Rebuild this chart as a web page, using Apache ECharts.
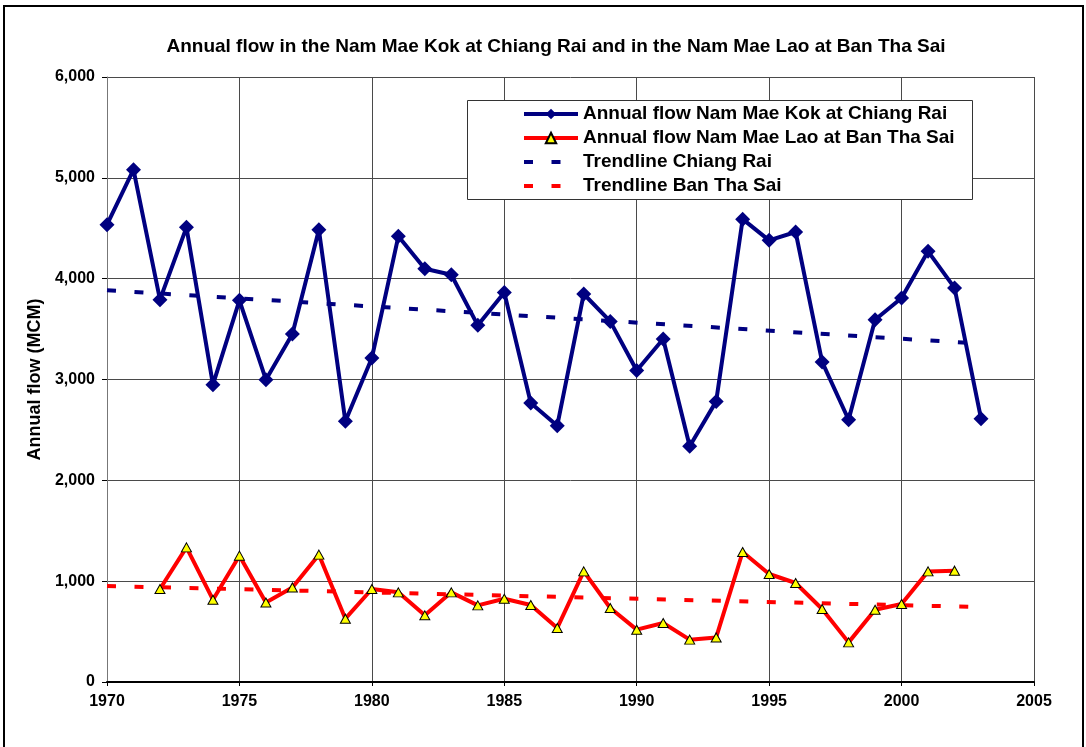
<!DOCTYPE html>
<html>
<head>
<meta charset="utf-8">
<title>Annual flow – Nam Mae Kok and Nam Mae Lao</title>
<script src="https://cdn.jsdelivr.net/npm/echarts@6/dist/echarts.min.js"></script>
<style>
  html, body { margin: 0; padding: 0; background: #fff; }
  #chart { width: 1086px; height: 747px; }
</style>
</head>
<body>
<div id="chart"></div>
<script>
// Annual flow (MCM), Nam Mae Kok at Chiang Rai, 1970–2003
const chiangRaiYears = [1970, 1971, 1972, 1973, 1974, 1975, 1976, 1977, 1978, 1979,
  1980, 1981, 1982, 1983, 1984, 1985, 1986, 1987, 1988, 1989,
  1990, 1991, 1992, 1993, 1994, 1995, 1996, 1997, 1998, 1999,
  2000, 2001, 2002, 2003];
const chiangRaiFlow = [4535, 5081, 3792, 4509, 2949, 3785, 2998, 3451, 4486, 2585,
  3213, 4420, 4099, 4039, 3537, 3864, 2767, 2542, 3848, 3576,
  3090, 3402, 2337, 2783, 4590, 4380, 4463, 3174, 2601, 3593,
  3808, 4271, 3908, 2611];

// Annual flow (MCM), Nam Mae Lao at Ban Tha Sai, 1972–2002
const banThaSaiYears = [1972, 1973, 1974, 1975, 1976, 1977, 1978, 1979,
  1980, 1981, 1982, 1983, 1984, 1985, 1986, 1987, 1988, 1989,
  1990, 1991, 1992, 1993, 1994, 1995, 1996, 1997, 1998, 1999,
  2000, 2001, 2002];
const banThaSaiFlow = [922, 1335, 816, 1253, 789, 938, 1263, 628,
  922, 889, 661, 889, 760, 826, 764, 536, 1097, 734,
  519, 585, 420, 442, 1289, 1071, 982, 724, 393, 717,
  774, 1097, 1104];

// Linear trendlines, given by their end points
const trendYears = [1970, 2003];
const trendChiangRai = [3885, 3356];
const trendBanThaSai = [952, 743];

// Axis ticks
const xTicks = [1970, 1975, 1980, 1985, 1990, 1995, 2000, 2005];
const yTicks = [0, 1000, 2000, 3000, 4000, 5000, 6000];

const seriesNames = [
  'Annual flow Nam Mae Kok at Chiang Rai',
  'Annual flow Nam Mae Lao at Ban Tha Sai',
  'Trendline Chiang Rai',
  'Trendline Ban Tha Sai'
];

const pairs = (xs, ys) => xs.map((x, i) => [x, ys[i]]);

const FONT = '"Liberation Sans", Arial, sans-serif';
const GRID_COLOR = '#4a4a4a';
const DASH = [9, 18.5];

const chart = echarts.init(document.getElementById('chart'), null, { renderer: 'canvas' });

chart.setOption({
  backgroundColor: '#ffffff',
  animation: false,
  textStyle: { fontFamily: FONT, color: '#000' },
  title: {
    text: 'Annual flow in the Nam Mae Kok at Chiang Rai and in the Nam Mae Lao at Ban Tha Sai',
    left: 551,
    top: 32,
    textAlign: 'center',
    textStyle: { fontFamily: FONT, fontSize: 19, fontWeight: 'bold', color: '#000' }
  },
  grid: { left: 107, right: 52, top: 77, bottom: 65, containLabel: false },
  xAxis: {
    type: 'value',
    min: xTicks[0],
    max: xTicks[xTicks.length - 1],
    interval: 5,
    axisLine: { show: true, onZero: false, lineStyle: { color: '#000', width: 2 } },
    axisTick: { show: true, inside: false, length: 4, lineStyle: { color: '#000', width: 1 } },
    splitLine: { show: true, lineStyle: { color: GRID_COLOR, width: 1 } },
    axisLabel: {
      margin: 12,
      fontFamily: FONT, fontSize: 16, fontWeight: 'bold', color: '#000',
      formatter: v => String(v)
    }
  },
  yAxis: {
    type: 'value',
    min: yTicks[0],
    max: yTicks[yTicks.length - 1],
    interval: 1000,
    name: 'Annual flow (MCM)',
    nameLocation: 'middle',
    nameGap: 60,
    nameRotate: 90,
    nameTextStyle: { fontFamily: FONT, fontSize: 18, fontWeight: 'bold', color: '#000' },
    axisLine: { show: true, lineStyle: { color: '#777', width: 1 } },
    axisTick: { show: true, inside: false, length: 5, lineStyle: { color: '#000', width: 1 } },
    splitLine: { show: true, lineStyle: { color: GRID_COLOR, width: 1 } },
    axisLabel: {
      margin: 12,
      fontFamily: FONT, fontSize: 16, fontWeight: 'bold', color: '#000',
      formatter: v => v.toLocaleString('en-US')
    }
  },
  legend: {
    show: true,
    orient: 'vertical',
    left: 522,
    top: 102,
    itemWidth: 54,
    itemHeight: 13,
    itemGap: 0,
    padding: 0,
    lineStyle: { width: 4 },
    data: [
      { name: seriesNames[0] },
      { name: seriesNames[1] },
      { name: seriesNames[2], itemStyle: { color: 'rgba(0,0,0,0)', borderWidth: 0, opacity: 0 }, lineStyle: { width: 4, type: DASH } },
      { name: seriesNames[3], itemStyle: { color: 'rgba(0,0,0,0)', borderWidth: 0, opacity: 0 }, lineStyle: { width: 4, type: DASH } }
    ],
    textStyle: { fontFamily: FONT, fontSize: 19, fontWeight: 'bold', color: '#000', lineHeight: 24, height: 24 },
    selectedMode: false,
    z: 6
  },
  graphic: [
    {
      // outer frame of the chart
      type: 'rect',
      z: 10,
      silent: true,
      shape: { x: 4, y: 6, width: 1079, height: 800 },
      style: { fill: 'none', stroke: '#000', lineWidth: 2 }
    },
    {
      // legend box
      type: 'rect',
      z: 5,
      silent: true,
      shape: { x: 467.5, y: 100.5, width: 505, height: 99 },
      style: { fill: '#fff', stroke: '#333', lineWidth: 1 }
    }
  ],
  series: [
    {
      name: seriesNames[0],
      type: 'line',
      data: pairs(chiangRaiYears, chiangRaiFlow),
      symbol: 'diamond',
      symbolSize: 15,
      showAllSymbol: true,
      itemStyle: { color: '#000080', borderColor: '#000080', borderWidth: 0 },
      lineStyle: { color: '#000080', width: 4 },
      z: 4
    },
    {
      name: seriesNames[1],
      type: 'line',
      data: pairs(banThaSaiYears, banThaSaiFlow),
      symbol: 'triangle',
      symbolSize: [10, 9],
      showAllSymbol: true,
      itemStyle: { color: '#ffff00', borderColor: '#000', borderWidth: 1 },
      lineStyle: { color: '#ff0000', width: 4 },
      z: 4
    },
    {
      name: seriesNames[2],
      type: 'line',
      data: pairs(trendYears, trendChiangRai),
      symbol: 'none',
      itemStyle: { color: '#000080' },
      lineStyle: { color: '#000080', width: 4, type: DASH, cap: 'butt' },
      z: 3
    },
    {
      name: seriesNames[3],
      type: 'line',
      data: pairs(trendYears, trendBanThaSai),
      symbol: 'none',
      itemStyle: { color: '#ff0000' },
      lineStyle: { color: '#ff0000', width: 4, type: DASH, cap: 'butt' },
      z: 3
    }
  ]
});
</script>
</body>
</html>
